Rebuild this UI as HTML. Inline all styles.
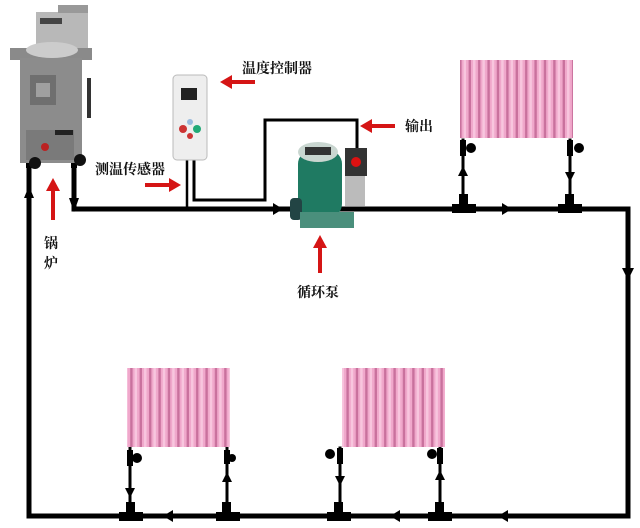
<!DOCTYPE html>
<html><head><meta charset="utf-8"><style>
body{margin:0;background:#fff;width:640px;height:528px;overflow:hidden}
svg{display:block}
text{font-family:"Liberation Serif","Noto Serif CJK SC",serif;font-size:14px;font-weight:bold;fill:#111}
</style></head><body>
<svg width="640" height="528" viewBox="0 0 640 528">
<defs>
<pattern id="rad" x="0" y="0" width="9.4" height="600" patternUnits="userSpaceOnUse">
<rect x="0" y="0" width="9.4" height="600" fill="#c9719d"/>
<rect x="1" y="0" width="7" height="600" fill="#f0a8cb"/>
<rect x="3" y="0" width="2.5" height="600" fill="#f8c6de"/>
</pattern>
</defs>
<g stroke="#000" fill="none" stroke-linecap="square">
<path d="M74,165 V209 H628 V516 H29 V165" stroke-width="5"/>
<path d="M29,165 V160 M74,160 V165" stroke-width="6"/>
<path d="M187,160 V208" stroke-width="2.5"/>
<path d="M194,160 V200 H265 V120 H357 V148" stroke-width="3"/>
<path d="M463,140 V208 M570,140 V208 M130,448 V516 M227,448 V516 M340,448 V516 M440,448 V516" stroke-width="3"/>
</g>
<g fill="#000">
<rect x="452" y="204" width="24" height="9"/><rect x="459" y="194" width="9" height="14"/>
<rect x="558" y="204" width="24" height="9"/><rect x="565" y="194" width="9" height="14"/>
<rect x="119" y="512" width="24" height="9"/><rect x="126" y="502" width="9" height="14"/>
<rect x="216" y="512" width="24" height="9"/><rect x="222" y="502" width="9" height="14"/>
<rect x="327" y="512" width="24" height="9"/><rect x="334" y="502" width="9" height="14"/>
<rect x="428" y="512" width="24" height="9"/><rect x="435" y="502" width="9" height="14"/>
<circle cx="471" cy="148" r="5"/><rect x="460" y="140" width="6" height="16"/>
<circle cx="579" cy="148" r="5"/><rect x="567" y="140" width="6" height="16"/>
<circle cx="137" cy="458" r="5"/><rect x="127" y="450" width="6" height="16"/>
<circle cx="232" cy="458" r="4"/><rect x="224" y="450" width="6" height="14"/>
<circle cx="330" cy="454" r="5"/><rect x="337" y="448" width="6" height="16"/>
<circle cx="432" cy="454" r="5"/><rect x="437" y="448" width="6" height="16"/>
<path d="M458,176 L463,166 L468,176z"/><path d="M565,172 L570,182 L575,172z"/>
<path d="M125,488 L130,498 L135,488z"/><path d="M222,482 L227,472 L232,482z"/>
<path d="M335,476 L340,486 L345,476z"/><path d="M435,480 L440,470 L445,480z"/>
<path d="M273,203 L283,209 L273,215z"/><path d="M502,203 L512,209 L502,215z"/>
<path d="M622,268 L628,280 L634,268z"/>
<path d="M173,510 L163,516 L173,522z"/><path d="M400,510 L390,516 L400,522z"/><path d="M508,510 L498,516 L508,522z"/>
<path d="M69,198 L74,212 L79,198z"/><path d="M24,198 L29,186 L34,198z"/>
</g>
<rect x="460" y="60" width="113" height="78" fill="url(#rad)"/>
<rect x="127" y="368" width="103" height="79" fill="url(#rad)"/>
<rect x="342" y="368" width="103" height="79" fill="url(#rad)"/>
<g>
<rect x="36" y="12" width="52" height="40" fill="#b8b8b8"/>
<rect x="40" y="18" width="22" height="6" fill="#444"/>
<rect x="58" y="5" width="30" height="8" fill="#999"/>
<rect x="10" y="48" width="82" height="12" fill="#8a8a8a"/>
<ellipse cx="52" cy="50" rx="26" ry="8" fill="#ccc"/>
<rect x="20" y="58" width="62" height="105" fill="#8c8c8c"/>
<rect x="30" y="75" width="26" height="30" fill="#6f6f6f"/>
<rect x="36" y="83" width="14" height="14" fill="#a0a0a0"/>
<rect x="26" y="130" width="48" height="30" fill="#7a7a7a"/>
<circle cx="45" cy="147" r="4" fill="#b22"/>
<rect x="55" y="130" width="18" height="5" fill="#222"/>
<rect x="87" y="78" width="4" height="40" fill="#333"/>
<circle cx="35" cy="163" r="6" fill="#111"/><circle cx="80" cy="160" r="6" fill="#111"/>
</g>
<rect x="173" y="75" width="34" height="85" rx="4" fill="#eee" stroke="#bbb"/>
<rect x="181" y="88" width="16" height="12" fill="#222"/>
<circle cx="183" cy="129" r="4" fill="#c33"/><circle cx="197" cy="129" r="4" fill="#2a7"/>
<circle cx="190" cy="122" r="3" fill="#9bd"/><circle cx="190" cy="136" r="3" fill="#c33"/>
<rect x="298" y="150" width="44" height="68" rx="14" fill="#1f7a62"/>
<ellipse cx="318" cy="152" rx="20" ry="10" fill="#c9d6d0"/>
<rect x="305" y="147" width="26" height="8" fill="#333"/>
<rect x="290" y="198" width="12" height="22" rx="4" fill="#244"/>
<rect x="300" y="212" width="54" height="16" fill="#4a8f7c"/>
<rect x="345" y="148" width="22" height="28" fill="#333"/>
<circle cx="356" cy="162" r="5" fill="#d11"/>
<rect x="345" y="176" width="20" height="30" fill="#bbb"/>
<g fill="#d51515">
<rect x="230" y="80" width="25" height="4"/><path d="M220,82 L232,75 L232,89z"/>
<rect x="370" y="124" width="25" height="4"/><path d="M360,126 L372,119 L372,133z"/>
<rect x="145" y="183" width="25" height="4"/><path d="M181,185 L169,178 L169,192z"/>
<rect x="51" y="190" width="4" height="30"/><path d="M53,178 L46,191 L60,191z"/>
<rect x="318" y="247" width="4" height="26"/><path d="M320,235 L313,248 L327,248z"/>
</g>
<text x="242" y="73">温度控制器</text>
<text x="405" y="131">输出</text>
<text x="95" y="174">测温传感器</text>
<text x="44" y="248">锅</text>
<text x="44" y="268">炉</text>
<text x="297" y="297">循环泵</text>
</svg>
</body></html>
